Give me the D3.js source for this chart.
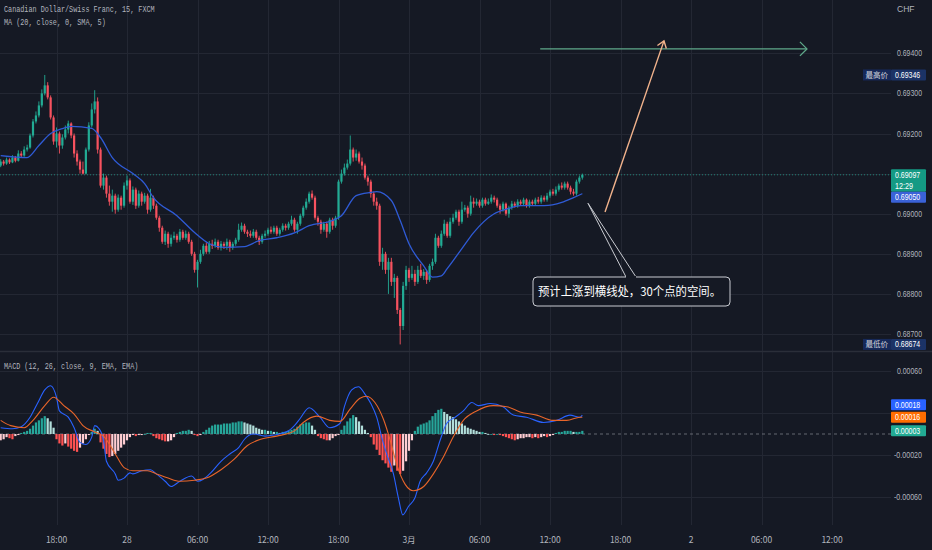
<!DOCTYPE html>
<html>
<head>
<meta charset="utf-8">
<script src="https://cdn.jsdelivr.net/npm/d3@7"></script>
<style>
html, body { margin: 0; padding: 0; background: #151924; }
svg { display: block; }
text { font-family: "Liberation Sans", Arial, sans-serif; }
</style>
</head>
<body>
<svg id="fig" width="932" height="550"></svg>
<script>
// prices are stored in 1e-5 CHF above 0.68000 (1097 -> 0.69097)
const BASE = 0.68
const firstOpen = 1120
const closes = [
    1130,1125,1135,1128,1140,1132,1150,1145,1160,1165,
    1195,1230,1245,1270,1300,1320,1290,1240,1180,1200,
    1170,1190,1210,1225,1195,1150,1130,1110,1100,1160,
    1220,1260,1280,1160,1070,1090,1050,1030,1045,1010,
    1040,1020,1070,1083,1030,1060,1020,1050,1030,1045,
    1010,1040,1020,990,965,930,950,925,940,945,
    935,955,940,950,930,900,860,880,900,920,
    905,925,920,930,915,925,920,930,915,925,
    935,960,970,955,950,945,955,940,930,945,
    950,960,955,965,950,960,970,965,975,985,
    960,975,995,1015,1030,1050,1040,990,980,960,
    975,955,985,970,990,1080,1100,1115,1125,1160,
    1140,1150,1130,1120,1090,1080,1050,1030,1020,880,
    900,860,880,830,840,760,720,820,860,840,
    850,830,860,845,855,835,870,880,940,920,
    950,975,945,980,990,1005,980,1010,1015,1000,
    1030,1025,1030,1020,1035,1025,1030,1040,1035,1020,
    1010,1025,1000,1015,1025,1020,1030,1025,1035,1020,
    1030,1025,1035,1030,1040,1035,1045,1055,1050,1060,
    1070,1065,1075,1065,1055,1050,1080,1090,1097
]
const highs = [
    1136,1134,1140,1138,1146,1144,1158,1156,1168,1172,
    1200,1236,1255,1280,1310,1346,1328,1295,1245,1215,
    1205,1198,1220,1232,1228,1200,1158,1135,1130,1165,
    1228,1275,1308,1290,1165,1100,1095,1070,1060,1050,
    1048,1045,1078,1095,1088,1068,1065,1058,1055,1052,
    1050,1062,1045,1025,995,970,958,955,948,955,
    950,962,960,958,955,935,905,885,910,925,
    928,932,935,938,935,932,930,938,935,930,
    940,975,978,975,960,958,962,960,945,950,
    958,965,968,970,970,965,976,975,980,995,
    990,980,1000,1020,1038,1055,1058,1045,995,985,
    980,980,990,990,995,1085,1110,1125,1135,1195,
    1165,1160,1155,1140,1125,1095,1085,1055,1040,1025,
    915,905,890,890,850,845,765,830,870,865,
    870,860,870,875,862,860,875,888,950,945,
    958,985,980,990,1000,1010,1010,1030,1022,1020,
    1045,1040,1038,1035,1040,1040,1038,1048,1045,1040,
    1025,1030,1028,1020,1032,1030,1036,1035,1040,1038,
    1035,1035,1040,1042,1046,1045,1052,1060,1062,1068,
    1075,1078,1080,1080,1070,1062,1085,1095,1100
]
const lows = [
    1116,1120,1122,1124,1126,1128,1130,1140,1142,1155,
    1162,1190,1225,1240,1265,1295,1285,1235,1172,1165,
    1150,1162,1185,1200,1188,1140,1120,1100,1098,1098,
    1155,1215,1250,1150,1065,1060,1040,1020,1005,1000,
    1005,1010,1015,1060,1025,1022,1012,1015,1020,1025,
    1000,1005,1012,985,955,925,922,915,918,935,
    928,930,935,935,925,895,853,816,875,895,
    900,900,912,915,910,908,912,910,905,910,
    920,930,955,950,942,940,940,935,922,925,
    940,945,950,950,945,945,955,958,960,970,
    955,950,970,990,1010,1025,1035,985,970,950,
    955,940,950,960,965,985,1075,1095,1110,1120,
    1130,1132,1125,1110,1085,1070,1040,1020,1010,870,
    860,850,800,820,790,750,674,710,810,830,
    835,820,825,840,835,825,830,860,875,915,
    915,945,940,940,975,985,970,975,1005,990,
    995,1015,1020,1015,1015,1020,1022,1025,1028,1015,
    1000,1005,995,990,1010,1015,1015,1020,1020,1015,
    1015,1020,1020,1025,1025,1030,1030,1040,1045,1045,
    1055,1060,1060,1060,1048,1045,1045,1075,1085
]
// MA(20): [candle index, value]
const maPoints = [
    [0,1145],[9,1140],[13,1170],[17,1200],[21,1212],[24,1218],[31,1213],[34,1190],
    [38,1140],[45,1100],[49,1075],[52,1040],[60,995],[66,953],[71,925],[76,916],
    [83,918],[88,933],[94,940],[100,952],[105,970],[113,983],[116,995],[121,1045],
    [126,1053],[128,1055],[133,1033],[136,983],[139,925],[144,870],[147,842],[150,845],
    [152,863],[157,913],[161,953],[168,1000],[173,1013],[177,1020],[185,1020],[191,1028],
    [195,1040],[198,1050]
]
// MACD values in 1e-5
const macdPoints = [
    [0,6],[4,5],[7,7],[10,16],[12.5,29],[15,42],[17,46],[19,35],[20,22],[23,16],
    [25,6],[27,-8],[29,-10],[31,-3],[32,8],[33.5,5],[35,-6],[36,-26],[39,-38],[40,-44],
    [42,-42],[44,-37],[45,-38],[48,-35],[51,-34],[53,-38],[56,-45],[58,-50],[61,-45],[65,-40],
    [67,-45],[69,-43],[71.5,-37],[75,-26],[78,-19],[81,-13],[83,-5],[86,0],[90,-2],[93,-1],
    [98,3],[100,8],[102,15],[105,25],[108.7,16],[112,6],[115.5,10],[117,26],[119.5,42],[121.8,45],
    [124,38],[126,29],[128,16],[130,-6],[131.4,-19],[133.7,-38],[135.4,-61],[136.9,-77],[138.8,-69],[141,-61],
    [142.8,-45],[145,-37],[147.3,-26],[149.6,-6],[151.8,10],[154.7,16],[157.5,22],[160.4,30],[162.6,27],[166.6,29],
    [171,26],[174.5,18],[179,16],[184.8,11],[189.3,13],[193.8,18],[197.2,16],[198,18]
]
const signalPoints = [
    [0,13],[3.4,8],[8,6],[11,13],[15,27],[18,35],[21.5,27],[25,19],[28,8],[32,2],
    [35,-2],[39,-19],[42,-32],[45,-35],[50,-35],[53,-38],[57,-42],[61,-45],[66,-44],[70,-42],
    [75,-34],[79.5,-24],[84,-11],[88.5,-5],[94,-2],[100,3],[103,11],[107.6,17],[112,13],[115.5,12],
    [119,24],[122.3,34],[124.6,36],[127.4,30],[130.3,14],[132.6,-6],[134.8,-29],[137.7,-48],[140.5,-54],[144,-50],
    [147.3,-38],[150.7,-22],[154,-3],[157.5,13],[162,22],[167.7,27],[172.3,26],[176.8,21],[182.5,18],[188,13],
    [192.7,13],[197.2,16],[198,16]
]
const histValues = [
    -6,-5,-3,-4,-5,-2,-1,1,2,3,
    5,8,11,13,15,17,15,12,6,-5,
    -9,-11,-9,-12,-14,-16,-17,-13,-9,-5,
    -1,2,5,3,-8,-14,-19,-22,-21,-19,
    -16,-13,-10,-6,-3,-1,-2,-1,-1,0,
    1,1,-2,-4,-5,-6,-7,-7,-6,-3,
    1,2,3,3,4,3,-1,-2,-1,2,
    4,6,8,9,9,9,10,10,10,11,
    11,12,12,11,10,9,8,6,5,4,
    4,3,3,2,2,1,2,2,3,4,
    5,7,9,10,11,11,8,4,-2,-4,
    -5,-6,-6,-4,-2,-1,4,8,12,15,
    18,16,12,8,4,1,-3,-10,-15,-20,
    -25,-28,-32,-36,-30,-35,-38,-35,-26,-16,
    -6,3,7,9,10,11,13,17,20,23,
    24,21,19,17,16,14,12,10,8,6,
    5,4,3,2,2,1,0,0,-1,0,
    -1,-2,-3,-4,-5,-6,-5,-4,-4,-3,
    -3,-4,-3,-4,-3,-2,-3,-2,-1,1,
    2,2,3,3,3,2,2,2,3
]
const priceTicks = [0.687, 0.688, 0.689, 0.690, 0.691, 0.692, 0.693, 0.694]
const macdTicks = [-0.0006, -0.0002, 0.0002, 0.0006]
const timeLabels = ["18:00","28","06:00","12:00","18:00","3月","06:00","12:00","18:00","2","06:00","12:00"]
const countdown = "12:29"

const W = 932, PLOT_W = 891
const BG = "#151924", GRID = "#232733", TXT = "#b2b5be"
const UP = "#22ab94", DOWN = "#f7525f"

const start = new Date(2023, 1, 27, 13, 15)
const firstTick = new Date(2023, 1, 27, 18, 0)
const tAt = i => new Date(start.getTime() + i * 15 * 60000)
const px = v => BASE + v / 1e5

let svg = d3.select("#fig")
svg.append("rect").attr("width", W).attr("height", 550).attr("fill", BG)

// scales
let x = d3.scaleTime()
    .domain([new Date(2023, 1, 28, 0, 0), new Date(2023, 2, 2, 12, 0)])
    .range([127, 832])
let y = d3.scaleLinear().domain([0.687, 0.694]).range([334, 53.3])
let yM = d3.scaleLinear().domain([-0.0006, 0.0006]).range([497, 371])

let defs = svg.append("defs")
defs.append("clipPath").attr("id", "clipP").append("rect").attr("width", PLOT_W).attr("height", 351)
defs.append("clipPath").attr("id", "clipM").append("rect").attr("y", 352).attr("width", PLOT_W).attr("height", 172)

// grid
let tickTimes = timeLabels.map((e, i) => new Date(firstTick.getTime() + i * 6 * 3600000))
let grid = svg.append("g").attr("stroke", GRID).attr("stroke-width", 1)
grid.selectAll(".gx").data(tickTimes).join("line")
    .attr("x1", d => Math.round(x(d)) + 0.5).attr("x2", d => Math.round(x(d)) + 0.5)
    .attr("y1", 0).attr("y2", 525)
grid.selectAll(".gy").data(priceTicks).join("line")
    .attr("x1", 0).attr("x2", PLOT_W)
    .attr("y1", d => Math.round(y(d)) + 0.5).attr("y2", d => Math.round(y(d)) + 0.5)
grid.selectAll(".gm").data(macdTicks).join("line")
    .attr("x1", 0).attr("x2", PLOT_W)
    .attr("y1", d => Math.round(yM(d)) + 0.5).attr("y2", d => Math.round(yM(d)) + 0.5)

// pane separator
svg.append("line").attr("x1", 0).attr("x2", W).attr("y1", 351.5).attr("y2", 351.5)
    .attr("stroke", "#2a2e39").attr("stroke-width", 1.5)

// price pane
let pane = svg.append("g").attr("clip-path", "url(#clipP)")
let lastClose = closes[closes.length - 1]
pane.append("line")
    .attr("x1", 0).attr("x2", PLOT_W)
    .attr("y1", y(px(lastClose))).attr("y2", y(px(lastClose)))
    .attr("stroke", UP).attr("stroke-opacity", 0.7).attr("stroke-dasharray", "1,2")

let candles = closes.map((c, i) => ({
    i, c, o: i === 0 ? firstOpen : closes[i - 1], h: highs[i], l: lows[i]
}))
pane.selectAll(".wick").data(candles).join("line")
    .attr("x1", d => x(tAt(d.i))).attr("x2", d => x(tAt(d.i)))
    .attr("y1", d => y(px(Math.max(d.h, d.o, d.c)))).attr("y2", d => y(px(Math.min(d.l, d.o, d.c))))
    .attr("stroke", d => d.c >= d.o ? UP : DOWN).attr("stroke-width", 0.9)
pane.selectAll(".body").data(candles).join("rect")
    .attr("x", d => x(tAt(d.i)) - 1.1).attr("width", 2.2)
    .attr("y", d => y(px(Math.max(d.o, d.c))))
    .attr("height", d => Math.max(1, Math.abs(y(px(d.o)) - y(px(d.c)))))
    .attr("fill", d => d.c >= d.o ? UP : DOWN)

pane.append("path").datum(maPoints)
    .attr("d", d3.line().x(d => x(tAt(d[0]))).y(d => y(px(d[1]))).curve(d3.curveMonotoneX))
    .attr("fill", "none").attr("stroke", "#2f5bd6").attr("stroke-width", 1.3)

// MACD pane
let mp = svg.append("g").attr("clip-path", "url(#clipM)")
mp.append("line").attr("x1", 0).attr("x2", PLOT_W).attr("y1", yM(0)).attr("y2", yM(0))
    .attr("stroke", "#787b86").attr("stroke-opacity", 0.8).attr("stroke-dasharray", "3,3")

let histColor = (v, p) => v >= 0 ? (v >= p ? "#26a69a" : "#b2dfdb") : (v < p ? "#ff5252" : "#ffcdd2")
mp.selectAll(".hist").data(histValues).join("rect")
    .attr("x", (d, i) => x(tAt(i)) - 1.1).attr("width", 2.2)
    .attr("y", d => Math.min(yM(0), yM(d / 1e5)))
    .attr("height", d => Math.max(0.8, Math.abs(yM(d / 1e5) - yM(0))))
    .attr("fill", (d, i) => histColor(d, i === 0 ? d : histValues[i - 1]))

let mline = d3.line().x(d => x(tAt(d[0]))).y(d => yM(d[1] / 1e5)).curve(d3.curveMonotoneX)
mp.append("path").datum(macdPoints).attr("d", mline)
    .attr("fill", "none").attr("stroke", "#2962ff").attr("stroke-width", 1.1)
mp.append("path").datum(signalPoints).attr("d", mline)
    .attr("fill", "none").attr("stroke", "#e8652a").attr("stroke-width", 1.1)

// drawings
let draw = svg.append("g").attr("fill", "none")
let targetPrice = 0.69411
let hx1 = x(new Date(2023, 2, 1, 11, 10)), hx2 = x(new Date(2023, 2, 2, 9, 52)), hy = y(targetPrice)
draw.append("line").attr("x1", hx1).attr("x2", hx2).attr("y1", hy).attr("y2", hy)
    .attr("stroke", "#5fa98a").attr("stroke-width", 1.3)
draw.append("path").attr("d", `M${hx2 - 7},${hy - 7}L${hx2},${hy}L${hx2 - 7},${hy + 7}`)
    .attr("stroke", "#5fa98a").attr("stroke-width", 1.3)

let ax1 = x(new Date(2023, 2, 1, 16, 41)), ay1 = y(0.69004)
let ax2 = x(new Date(2023, 2, 1, 21, 42)), ay2 = y(0.69431)
draw.append("line").attr("x1", ax1).attr("y1", ay1).attr("x2", ax2).attr("y2", ay2)
    .attr("stroke", "#f2b38c").attr("stroke-width", 1.4)
let ang = Math.atan2(ay2 - ay1, ax2 - ax1)
let head = [ang + Math.PI * 0.8, ang - Math.PI * 0.8].map(a => [ax2 + 8 * Math.cos(a), ay2 + 8 * Math.sin(a)])
draw.append("path").attr("d", `M${head[0]}L${ax2},${ay2}L${head[1]}`)
    .attr("stroke", "#f2b38c").attr("stroke-width", 1.4)

// callout
let tipX = x(new Date(2023, 2, 1, 15, 14)), tipY = y(0.69026)
let bx = 533, by = 277, bw = 197, bh = 29
draw.append("path")
    .attr("d", `M${bx + 93},${by}L${tipX},${tipY}L${bx + 103},${by}`)
    .attr("stroke", "#c9cbd1").attr("stroke-width", 1)
draw.append("rect").attr("x", bx).attr("y", by).attr("width", bw).attr("height", bh)
    .attr("rx", 4).attr("fill", BG).attr("stroke", "#c9cbd1").attr("stroke-width", 1)
draw.append("line").attr("x1", bx + 93).attr("x2", bx + 103).attr("y1", by).attr("y2", by)
    .attr("stroke", BG).attr("stroke-width", 2)
svg.append("text").attr("x", bx + 5).attr("y", by + 19)
    .attr("fill", "#ffffff").style("font-family", "'Noto Sans CJK SC', 'Noto Sans', sans-serif")
    .attr("font-size", 12).attr("textLength", 183).attr("lengthAdjust", "spacingAndGlyphs")
    .text("预计上涨到横线处，30个点的空间。")

// value tags on the right scale; remember the rows they cover
let covered = []
function tag(yc, h, fill, lines, x0 = 891, w = 35) {
    let g = svg.append("g")
    g.append("rect").attr("x", x0).attr("y", yc - h / 2).attr("width", w).attr("height", h)
        .attr("fill", fill).attr("rx", 1)
    lines.forEach((t, k) => {
        g.append("text").attr("x", x0 + 4).attr("y", yc - h / 2 + 8.5 + k * 11)
            .attr("fill", "#ffffff").attr("font-size", 8.5)
            .attr("textLength", t.length * 3.6).attr("lengthAdjust", "spacingAndGlyphs")
            .text(t)
    })
    covered.push([yc - h / 2, yc + h / 2])
}
function sideTag(yc, label, value) {
    svg.append("rect").attr("x", 863).attr("y", yc - 5.5).attr("width", 28).attr("height", 11)
        .attr("fill", "#16295a")
    svg.append("text").attr("x", 865.5).attr("y", yc + 3).attr("fill", "#d1d4dc")
        .attr("font-size", 7.5).style("font-family", "'Noto Sans CJK SC', sans-serif")
        .text(label)
    tag(yc, 11, "#1b3366", [value])
}
let fmt = d3.format(".5f")
let hi = d3.max(highs), lo = d3.min(lows)
sideTag(y(px(hi)), "最高价", fmt(px(hi)))
sideTag(y(px(lo)), "最低价", fmt(px(lo)))
let cy = y(px(lastClose))
tag(cy + 5.8, 22.5, "#149a84", [fmt(px(lastClose)), countdown])
tag(cy + 22.5, 11, "#3a62d8", [fmt(px(maPoints[maPoints.length - 1][1]))])

// MACD value tags, stacked upwards so they do not overlap
let mTags = [
    {v: histValues[histValues.length - 1], c: "#22ab94"},
    {v: signalPoints[signalPoints.length - 1][1], c: "#ff6d00"},
    {v: macdPoints[macdPoints.length - 1][1], c: "#2962ff"}
]
let prevY = 1e9
mTags.forEach(e => {
    let yc = Math.min(yM(e.v / 1e5), prevY - 12.5)
    tag(yc, 11, e.c, [fmt(e.v / 1e5)])
    prevY = yc
})

// scale labels, hidden where a tag sits on top of them
let free = yy => !covered.some(r => yy + 4 > r[0] && yy - 4 < r[1])
let axis = svg.append("g").attr("font-size", 8.5).attr("fill", TXT)
axis.append("text").attr("x", 897).attr("y", 12).text("CHF")
axis.selectAll(".pl").data(priceTicks.filter(d => free(y(d)))).join("text")
    .attr("x", 897).attr("y", d => y(d) + 3)
    .attr("textLength", 25).attr("lengthAdjust", "spacingAndGlyphs")
    .text(d => fmt(d))
axis.selectAll(".ml").data(macdTicks.filter(d => free(yM(d)))).join("text")
    .attr("x", d => d < 0 ? 894 : 897).attr("y", d => yM(d) + 3)
    .attr("textLength", d => d < 0 ? 28 : 25).attr("lengthAdjust", "spacingAndGlyphs")
    .text(d => fmt(d).replace("−", "-"))

// time axis
svg.append("g").attr("font-size", 8.5).attr("fill", TXT).attr("text-anchor", "middle")
    .selectAll("text").data(tickTimes).join("text")
    .attr("x", d => x(d)).attr("y", 543)
    .style("font-family", "'Noto Sans CJK SC', 'Liberation Sans', sans-serif")
    .text((d, i) => timeLabels[i])

// legends
let legend = [
    {t: "Canadian Dollar/Swiss Franc, 15, FXCM", y: 12},
    {t: "MA (20, close, 0, SMA, 5)", y: 25},
    {t: "MACD (12, 26, close, 9, EMA, EMA)", y: 369}
]
svg.append("g").selectAll("text").data(legend).join("text")
    .attr("x", 4).attr("y", d => d.y).attr("fill", TXT).attr("font-size", 8.5)
    .style("font-family", "'Liberation Mono', monospace")
    .attr("textLength", d => d.t.length * 4.07).attr("lengthAdjust", "spacingAndGlyphs")
    .text(d => d.t)
</script>
</body>
</html>
